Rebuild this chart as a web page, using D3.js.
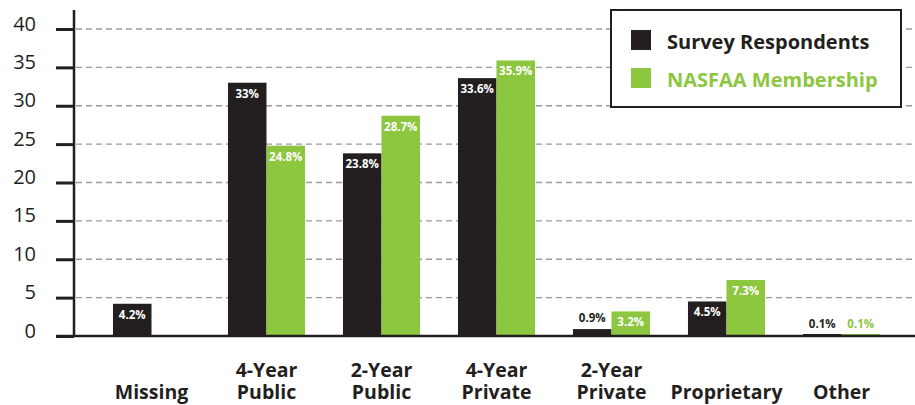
<!DOCTYPE html>
<html><head><meta charset="utf-8">
<script src="https://cdn.jsdelivr.net/npm/d3@7"></script>
<style>body{margin:0;background:#fff;} svg{display:block;}</style>
</head><body>
<svg id="c" width="915" height="405"></svg>
<script>
const categories = [["Missing"],["4-Year","Public"],["2-Year","Public"],["4-Year","Private"],["2-Year","Private"],["Proprietary"],["Other"]];
const seriesNames = ["Survey Respondents","NASFAA Membership"];
const surveyValues = [4.2, 33, 23.8, 33.6, 0.9, 4.5, 0.1];
const nasfaaValues = [null, 24.8, 28.7, 35.9, 3.2, 7.3, 0.1];
const surveyLabels = ["4.2%","33%","23.8%","33.6%","0.9%","4.5%","0.1%"];
const nasfaaLabels = [null,"24.8%","28.7%","35.9%","3.2%","7.3%","0.1%"];
const yTicks = [0,5,10,15,20,25,30,35,40];

const colors = ["#231f20","#8dc63f"];
const font = "'Open Sans', sans-serif";
const svg = d3.select("#c");
const keys = categories.map(c => c.join(" "));

const y = d3.scaleLinear().domain([0,40]).range([336,29]);
const x = d3.scaleBand().domain(keys).range([94,899]).paddingInner(0.33).paddingOuter(0.165);
const xs = d3.scaleBand().domain([0,1]).range([0,x.bandwidth()]);

// grid
svg.append("g").selectAll("line").data(yTicks.filter(t=>t>0)).join("line")
  .attr("x1",76).attr("x2",913).attr("y1",d=>y(d)).attr("y2",d=>y(d))
  .attr("stroke","#9a9a9a").attr("stroke-width",1.3).attr("stroke-dasharray","6,4");

// bars
const series = [surveyValues, nasfaaValues];
const labels = [surveyLabels, nasfaaLabels];
series.forEach((vals, s) => {
  const data = keys.map((k,i)=>({k, v: vals[i], l: labels[s][i]})).filter(d=>d.v!=null);
  svg.append("g").selectAll("rect").data(data).join("rect")
    .attr("x", d=>x(d.k)+xs(s)).attr("width", xs.bandwidth())
    .attr("y", d=>Math.min(y(d.v), y(0)-2)).attr("height", d=>Math.max(y(0)-y(d.v),2))
    .attr("fill", colors[s]);
  svg.append("g").selectAll("text").data(data).join("text")
    .attr("x", d=>x(d.k)+xs(s)+xs.bandwidth()/2)
    .attr("y", d=> d.v>=3 ? y(d.v)+15 : y(d.v)-7)
    .attr("text-anchor","middle")
    .attr("font-family",font).attr("font-weight",700).attr("font-size",11.5)
    .attr("fill", d=> d.v>=3 ? "#fff" : colors[s])
    .text(d=>d.l);
});

// y axis
const ax = svg.append("g").attr("transform","translate(74,0)")
  .call(d3.axisLeft(y).tickValues(yTicks).tickSize(18).tickPadding(20));
ax.select(".domain").remove();
ax.selectAll(".tick line").attr("stroke","#231f20").attr("stroke-width",3);
ax.selectAll(".tick text").attr("dy","0.05em").attr("font-family",font)
  .attr("font-size",20).attr("fill","#231f20");
svg.append("line").attr("x1",74).attr("x2",74).attr("y1",10).attr("y2",337)
  .attr("stroke","#231f20").attr("stroke-width",2.5);
svg.append("line").attr("x1",56).attr("x2",915).attr("y1",y(0)).attr("y2",y(0))
  .attr("stroke","#231f20").attr("stroke-width",2.5);

// category labels
const cl = svg.append("g").selectAll("text").data(categories).join("text")
  .attr("text-anchor","middle").attr("font-family",font).attr("font-weight",700)
  .attr("font-size",19.5).attr("fill","#231f20")
  .attr("transform", (d,i)=>`translate(${x(keys[i])+x.bandwidth()/2},0)`);
cl.selectAll("tspan").data(d=> d.length===1 ? [[d[0],398.5]] : [[d[0],377],[d[1],398.5]]).join("tspan")
  .attr("x",0).attr("y",d=>d[1]).text(d=>d[0]);

// legend
const lg = svg.append("g");
lg.append("rect").attr("x",611).attr("y",10).attr("width",290).attr("height",97)
  .attr("fill","#fff").attr("stroke","#231f20").attr("stroke-width",2);
seriesNames.forEach((n,i)=>{
  lg.append("rect").attr("x",631).attr("y",30+i*38).attr("width",20).attr("height",20).attr("fill",colors[i]);
  lg.append("text").attr("x",667).attr("y",49+i*38).attr("font-family",font).attr("font-weight",700)
    .attr("font-size",20).attr("fill",colors[i]).text(n);
});
</script>
</body></html>
